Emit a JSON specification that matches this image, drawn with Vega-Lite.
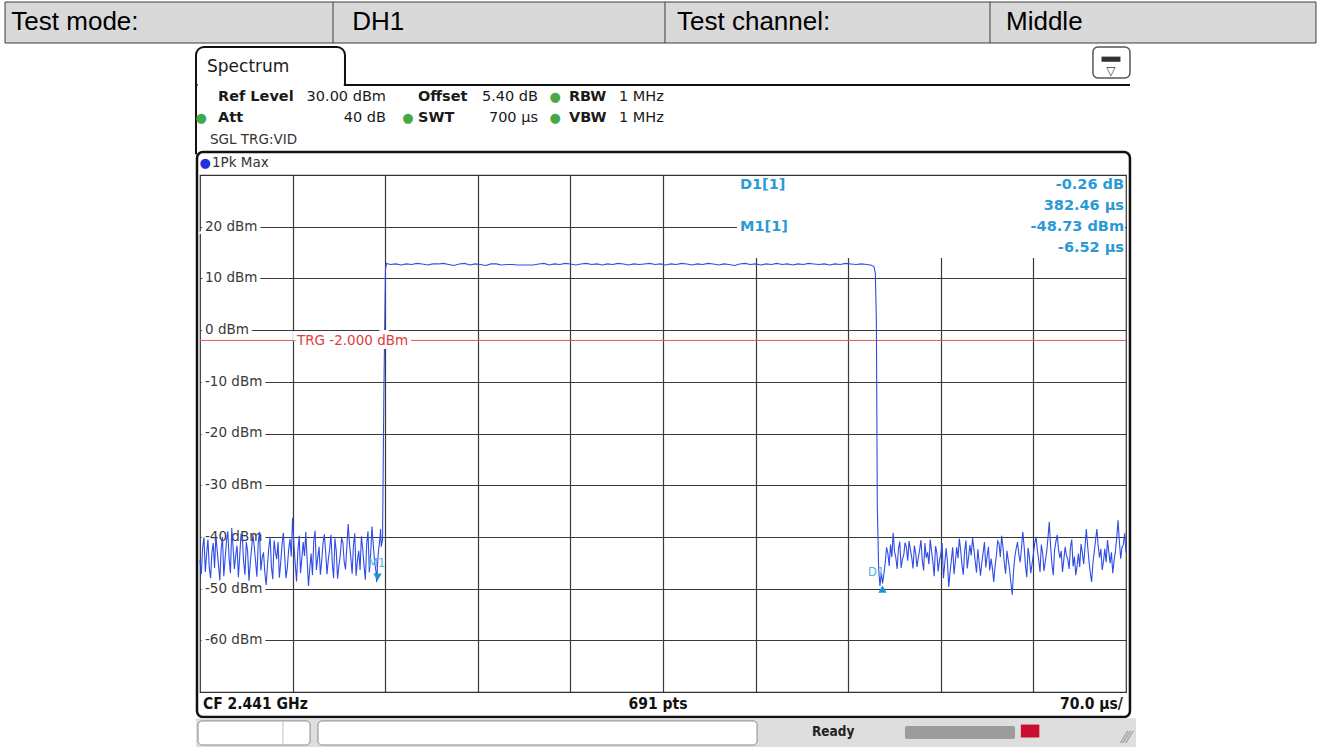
{
"$schema":"https://vega.github.io/schema/vega-lite/v6.json",
"width":926,"height":517,"autosize":"none",
"padding":{"left":200,"top":175,"right":196,"bottom":55},
"background":"white",
"config":{"view":{"stroke":"#333333","strokeWidth":1.2},"text":{"font":"DejaVu Sans"}},
"data":{"values":[
{"t":0,"dBm":-44.5},{"t":1,"dBm":-47.2},{"t":2,"dBm":-42.0},{"t":3,"dBm":-40.1},{"t":4,"dBm":-46.8},{"t":5,"dBm":-43.3},{"t":6,"dBm":-40.5},{"t":7,"dBm":-45.9},{"t":8,"dBm":-48.0},{"t":9,"dBm":-43.0},{"t":10,"dBm":-41.2},{"t":11,"dBm":-46.0},{"t":12,"dBm":-39.8},{"t":13,"dBm":-42.6},{"t":14,"dBm":-45.5},{"t":15,"dBm":-48.4},{"t":16,"dBm":-42.3},{"t":17,"dBm":-40.0},{"t":18,"dBm":-47.6},{"t":19,"dBm":-44.2},{"t":20,"dBm":-40.9},{"t":21,"dBm":-38.9},{"t":22,"dBm":-44.1},{"t":23,"dBm":-47.0},{"t":24,"dBm":-38.3},{"t":25,"dBm":-42.0},{"t":26,"dBm":-46.2},{"t":27,"dBm":-43.5},{"t":28,"dBm":-41.7},{"t":29,"dBm":-47.8},{"t":30,"dBm":-43.9},{"t":31,"dBm":-39.4},{"t":32,"dBm":-40.2},{"t":33,"dBm":-44.9},{"t":34,"dBm":-47.3},{"t":35,"dBm":-41.0},{"t":36,"dBm":-42.8},{"t":37,"dBm":-48.5},{"t":38,"dBm":-45.0},{"t":39,"dBm":-42.2},{"t":40,"dBm":-39.6},{"t":41,"dBm":-41.8},{"t":42,"dBm":-44.7},{"t":43,"dBm":-47.7},{"t":44,"dBm":-41.3},{"t":45,"dBm":-39.0},{"t":46,"dBm":-46.5},{"t":47,"dBm":-44.0},{"t":48,"dBm":-43.0},{"t":49,"dBm":-46.9},{"t":50,"dBm":-49.3},{"t":51,"dBm":-45.5},{"t":52,"dBm":-42.1},{"t":53,"dBm":-40.0},{"t":54,"dBm":-45.8},{"t":55,"dBm":-48.2},{"t":56,"dBm":-40.7},{"t":57,"dBm":-42.9},{"t":58,"dBm":-44.3},{"t":59,"dBm":-41.0},{"t":60,"dBm":-47.9},{"t":61,"dBm":-45.0},{"t":62,"dBm":-41.5},{"t":63,"dBm":-39.2},{"t":64,"dBm":-43.6},{"t":65,"dBm":-48.0},{"t":66,"dBm":-46.0},{"t":67,"dBm":-42.5},{"t":68,"dBm":-40.4},{"t":69,"dBm":-43.8},{"t":70,"dBm":-36.3},{"t":71,"dBm":-41.5},{"t":72,"dBm":-45.2},{"t":73,"dBm":-48.6},{"t":74,"dBm":-42.6},{"t":75,"dBm":-39.8},{"t":76,"dBm":-47.0},{"t":77,"dBm":-44.1},{"t":78,"dBm":-41.0},{"t":79,"dBm":-43.7},{"t":80,"dBm":-39.0},{"t":81,"dBm":-44.5},{"t":82,"dBm":-49.5},{"t":83,"dBm":-46.0},{"t":84,"dBm":-43.2},{"t":85,"dBm":-47.4},{"t":86,"dBm":-40.8},{"t":87,"dBm":-38.8},{"t":88,"dBm":-46.4},{"t":89,"dBm":-44.0},{"t":90,"dBm":-41.9},{"t":91,"dBm":-47.3},{"t":92,"dBm":-44.6},{"t":93,"dBm":-41.2},{"t":94,"dBm":-39.5},{"t":95,"dBm":-43.0},{"t":96,"dBm":-47.2},{"t":97,"dBm":-44.4},{"t":98,"dBm":-42.4},{"t":99,"dBm":-39.6},{"t":100,"dBm":-45.1},{"t":101,"dBm":-48.0},{"t":102,"dBm":-40.3},{"t":103,"dBm":-42.7},{"t":104,"dBm":-48.1},{"t":105,"dBm":-45.6},{"t":106,"dBm":-43.7},{"t":107,"dBm":-40.2},{"t":108,"dBm":-41.1},{"t":109,"dBm":-44.8},{"t":110,"dBm":-46.3},{"t":111,"dBm":-42.0},{"t":112,"dBm":-37.5},{"t":113,"dBm":-41.3},{"t":114,"dBm":-44.0},{"t":115,"dBm":-47.1},{"t":116,"dBm":-41.6},{"t":117,"dBm":-39.3},{"t":118,"dBm":-47.5},{"t":119,"dBm":-44.6},{"t":120,"dBm":-42.7},{"t":121,"dBm":-46.4},{"t":122,"dBm":-39.9},{"t":123,"dBm":-42.3},{"t":124,"dBm":-45.6},{"t":125,"dBm":-48.3},{"t":126,"dBm":-41.4},{"t":127,"dBm":-38.9},{"t":128,"dBm":-46.9},{"t":129,"dBm":-43.4},{"t":130,"dBm":-38.0},{"t":131,"dBm":-41.6},{"t":132,"dBm":-44.8},{"t":133,"dBm":-46.6},{"t":133.5,"dBm":-48.73},{"t":134.3,"dBm":-45.0},{"t":135,"dBm":-42.5},{"t":136,"dBm":-40.4},{"t":136.5,"dBm":-38.5},{"t":137,"dBm":-41.9},{"t":138,"dBm":-40.5},{"t":139,"dBm":-12},{"t":140.2,"dBm":11.8},
{"t":141,"dBm":12.9},{"t":144,"dBm":12.7},{"t":148,"dBm":12.8},{"t":152,"dBm":12.6},{"t":156,"dBm":12.8},{"t":160,"dBm":12.7},{"t":164,"dBm":12.9},{"t":168,"dBm":12.8},{"t":172,"dBm":12.6},{"t":176,"dBm":12.8},{"t":180,"dBm":12.8},{"t":184,"dBm":12.9},{"t":188,"dBm":12.7},{"t":192,"dBm":12.5},{"t":196,"dBm":12.8},{"t":200,"dBm":12.9},{"t":204,"dBm":12.6},{"t":208,"dBm":12.8},{"t":212,"dBm":12.7},{"t":216,"dBm":12.5},{"t":220,"dBm":12.8},{"t":224,"dBm":12.8},{"t":228,"dBm":12.6},{"t":232,"dBm":12.7},{"t":236,"dBm":12.7},{"t":240,"dBm":12.6},{"t":244,"dBm":12.6},{"t":248,"dBm":12.6},{"t":252,"dBm":12.6},{"t":256,"dBm":12.8},{"t":260,"dBm":12.9},{"t":264,"dBm":12.6},{"t":268,"dBm":12.8},{"t":272,"dBm":12.7},{"t":276,"dBm":12.9},{"t":280,"dBm":12.8},{"t":284,"dBm":12.6},{"t":288,"dBm":12.8},{"t":292,"dBm":12.9},{"t":296,"dBm":12.7},{"t":300,"dBm":12.8},{"t":304,"dBm":12.6},{"t":308,"dBm":12.8},{"t":312,"dBm":12.7},{"t":316,"dBm":12.9},{"t":320,"dBm":12.8},{"t":324,"dBm":12.6},{"t":328,"dBm":12.8},{"t":332,"dBm":12.7},{"t":336,"dBm":12.8},{"t":340,"dBm":12.9},{"t":344,"dBm":12.7},{"t":348,"dBm":12.8},{"t":352,"dBm":12.6},{"t":356,"dBm":12.8},{"t":360,"dBm":12.7},{"t":364,"dBm":12.9},{"t":368,"dBm":12.8},{"t":372,"dBm":12.6},{"t":376,"dBm":12.8},{"t":380,"dBm":12.7},{"t":384,"dBm":12.9},{"t":388,"dBm":12.8},{"t":392,"dBm":12.6},{"t":396,"dBm":12.8},{"t":400,"dBm":12.7},{"t":404,"dBm":12.5},{"t":408,"dBm":12.8},{"t":412,"dBm":12.9},{"t":416,"dBm":12.7},{"t":420,"dBm":12.8},{"t":424,"dBm":12.6},{"t":428,"dBm":12.8},{"t":432,"dBm":12.7},{"t":436,"dBm":12.9},{"t":440,"dBm":12.7},{"t":444,"dBm":12.8},{"t":448,"dBm":12.6},{"t":452,"dBm":12.8},{"t":456,"dBm":12.7},{"t":460,"dBm":12.9},{"t":464,"dBm":12.8},{"t":468,"dBm":12.7},{"t":472,"dBm":12.8},{"t":476,"dBm":12.6},{"t":480,"dBm":12.8},{"t":484,"dBm":12.7},{"t":488,"dBm":12.9},{"t":492,"dBm":12.8},{"t":496,"dBm":12.7},{"t":500,"dBm":12.8},{"t":504,"dBm":12.7},{"t":507,"dBm":12.6},{"t":509.5,"dBm":12.3},{"t":510.5,"dBm":11.0},{"t":511.3,"dBm":2.0},{"t":512,"dBm":-34},{"t":513,"dBm":-46},{"t":514,"dBm":-49.5},{"t":515,"dBm":-47},
{"t":516,"dBm":-49.0},{"t":517,"dBm":-47.1},{"t":518,"dBm":-45.0},{"t":519,"dBm":-42.0},{"t":520,"dBm":-43.2},{"t":521,"dBm":-45.6},{"t":522,"dBm":-41.5},{"t":523,"dBm":-43.9},{"t":524,"dBm":-39.2},{"t":525,"dBm":-42.8},{"t":526,"dBm":-44.0},{"t":527,"dBm":-46.2},{"t":528,"dBm":-42.3},{"t":529,"dBm":-40.9},{"t":530,"dBm":-46.0},{"t":531,"dBm":-44.3},{"t":532,"dBm":-43.5},{"t":533,"dBm":-41.1},{"t":534,"dBm":-42.0},{"t":535,"dBm":-44.6},{"t":536,"dBm":-40.8},{"t":537,"dBm":-42.4},{"t":538,"dBm":-43.9},{"t":539,"dBm":-46.1},{"t":540,"dBm":-41.7},{"t":541,"dBm":-43.2},{"t":542,"dBm":-45.8},{"t":543,"dBm":-44.0},{"t":544,"dBm":-42.5},{"t":545,"dBm":-40.6},{"t":546,"dBm":-44.6},{"t":547,"dBm":-46.5},{"t":548,"dBm":-41.2},{"t":549,"dBm":-44.0},{"t":550,"dBm":-43.0},{"t":551,"dBm":-45.3},{"t":552,"dBm":-40.5},{"t":553,"dBm":-42.7},{"t":554,"dBm":-44.8},{"t":555,"dBm":-47.6},{"t":556,"dBm":-41.8},{"t":557,"dBm":-43.0},{"t":558,"dBm":-46.7},{"t":559,"dBm":-44.5},{"t":560,"dBm":-43.4},{"t":561,"dBm":-41.2},{"t":562,"dBm":-48.0},{"t":563,"dBm":-45.2},{"t":564,"dBm":-42.2},{"t":565,"dBm":-44.7},{"t":566,"dBm":-49.7},{"t":567,"dBm":-46.8},{"t":568,"dBm":-44.5},{"t":569,"dBm":-42.0},{"t":570,"dBm":-47.2},{"t":571,"dBm":-44.8},{"t":572,"dBm":-42.0},{"t":573,"dBm":-44.1},{"t":574,"dBm":-40.3},{"t":575,"dBm":-42.5},{"t":576,"dBm":-45.4},{"t":577,"dBm":-47.3},{"t":578,"dBm":-42.8},{"t":579,"dBm":-40.7},{"t":580,"dBm":-46.1},{"t":581,"dBm":-43.9},{"t":582,"dBm":-41.6},{"t":583,"dBm":-43.6},{"t":584,"dBm":-40.2},{"t":585,"dBm":-42.3},{"t":586,"dBm":-44.7},{"t":587,"dBm":-46.9},{"t":588,"dBm":-42.4},{"t":589,"dBm":-44.9},{"t":590,"dBm":-47.5},{"t":591,"dBm":-45.0},{"t":592,"dBm":-43.1},{"t":593,"dBm":-41.0},{"t":594,"dBm":-45.9},{"t":595,"dBm":-43.8},{"t":596,"dBm":-41.9},{"t":597,"dBm":-46.5},{"t":598,"dBm":-44.2},{"t":599,"dBm":-46.0},{"t":600,"dBm":-48.7},{"t":601,"dBm":-45.7},{"t":602,"dBm":-43.6},{"t":603,"dBm":-40.8},{"t":604,"dBm":-41.3},{"t":605,"dBm":-43.9},{"t":606,"dBm":-39.8},{"t":607,"dBm":-42.0},{"t":608,"dBm":-45.0},{"t":609,"dBm":-47.1},{"t":610,"dBm":-42.7},{"t":611,"dBm":-44.5},{"t":612,"dBm":-46.3},{"t":613,"dBm":-48.9},{"t":614,"dBm":-51.2},{"t":615,"dBm":-46.5},{"t":616,"dBm":-43.8},{"t":617,"dBm":-42.2},{"t":618,"dBm":-41.0},{"t":619,"dBm":-43.4},{"t":620,"dBm":-44.9},{"t":621,"dBm":-42.1},{"t":622,"dBm":-39.0},{"t":623,"dBm":-41.9},{"t":624,"dBm":-45.5},{"t":625,"dBm":-47.8},{"t":626,"dBm":-42.1},{"t":627,"dBm":-44.0},{"t":628,"dBm":-47.0},{"t":629,"dBm":-45.2},{"t":630,"dBm":-43.3},{"t":631,"dBm":-41.2},{"t":632,"dBm":-40.0},{"t":633,"dBm":-42.6},{"t":634,"dBm":-44.4},{"t":635,"dBm":-46.8},{"t":636,"dBm":-41.5},{"t":637,"dBm":-43.2},{"t":638,"dBm":-46.6},{"t":639,"dBm":-44.7},{"t":640,"dBm":-43.0},{"t":641,"dBm":-40.2},{"t":642,"dBm":-37.1},{"t":643,"dBm":-41.8},{"t":644,"dBm":-45.2},{"t":645,"dBm":-47.4},{"t":646,"dBm":-42.6},{"t":647,"dBm":-40.9},{"t":648,"dBm":-39.6},{"t":649,"dBm":-42.5},{"t":650,"dBm":-44.1},{"t":651,"dBm":-42.7},{"t":652,"dBm":-46.8},{"t":653,"dBm":-44.4},{"t":654,"dBm":-41.9},{"t":655,"dBm":-43.6},{"t":656,"dBm":-44.3},{"t":657,"dBm":-46.2},{"t":658,"dBm":-42.0},{"t":659,"dBm":-40.5},{"t":660,"dBm":-45.7},{"t":661,"dBm":-43.8},{"t":662,"dBm":-47.4},{"t":663,"dBm":-45.6},{"t":664,"dBm":-43.2},{"t":665,"dBm":-45.8},{"t":666,"dBm":-41.4},{"t":667,"dBm":-43.1},{"t":668,"dBm":-45.3},{"t":669,"dBm":-42.0},{"t":670,"dBm":-38.5},{"t":671,"dBm":-41.7},{"t":672,"dBm":-44.6},{"t":673,"dBm":-46.9},{"t":674,"dBm":-48.7},{"t":675,"dBm":-45.1},{"t":676,"dBm":-42.9},{"t":677,"dBm":-40.6},{"t":678,"dBm":-38.5},{"t":679,"dBm":-41.8},{"t":680,"dBm":-44.0},{"t":681,"dBm":-42.3},{"t":682,"dBm":-46.4},{"t":683,"dBm":-44.7},{"t":684,"dBm":-42.3},{"t":685,"dBm":-44.9},{"t":686,"dBm":-40.6},{"t":687,"dBm":-42.9},{"t":688,"dBm":-45.1},{"t":689,"dBm":-43.0},{"t":690,"dBm":-47.0},{"t":691,"dBm":-44.6},{"t":692,"dBm":-42.8},{"t":693,"dBm":-40.1},{"t":694,"dBm":-36.8},{"t":695,"dBm":-40.9},{"t":696,"dBm":-44.2},{"t":697,"dBm":-42.0},{"t":698,"dBm":-41.5},{"t":699,"dBm":-39.3},{"t":700,"dBm":-43.0}
]},
"layer":[
{"mark":{"type":"line","stroke":"#2f4de6","strokeWidth":1.1,"opacity":0},
 "encoding":{
  "x":{"field":"t","type":"quantitative","scale":{"domain":[0,700],"nice":false,"zero":false},
       "axis":{"title":null,"values":[70,140,210,280,350,420,490,560,630],"labels":false,"ticks":false,"domain":false,"grid":true,"gridColor":"#3a3a3a","gridWidth":1.2,"gridOpacity":1}},
  "y":{"field":"dBm","type":"quantitative","scale":{"domain":[-70,30],"nice":false,"zero":false},
       "axis":{"title":null,"values":[-60,-50,-40,-30,-20,-10,0,10,20],"labels":false,"ticks":false,"domain":false,"grid":true,"gridColor":"#3a3a3a","gridWidth":1.2,"gridOpacity":1}}}},

{"data":{"values":[{}]},"mark":{"type":"rect","fill":"#d9d9d9","stroke":"#3c3c3c","strokeWidth":1},
 "encoding":{"x":{"datum":-147.4},"x2":{"datum":843.6},"y":{"datum":63.46},"y2":{"datum":55.53}}},
{"data":{"values":[{}]},"mark":{"type":"rule","stroke":"#3c3c3c","strokeWidth":1},"encoding":{"x":{"datum":100.54},"y":{"datum":63.46},"y2":{"datum":55.53}}},
{"data":{"values":[{}]},"mark":{"type":"rule","stroke":"#3c3c3c","strokeWidth":1},"encoding":{"x":{"datum":351.5},"y":{"datum":63.46},"y2":{"datum":55.53}}},
{"data":{"values":[{}]},"mark":{"type":"rule","stroke":"#3c3c3c","strokeWidth":1},"encoding":{"x":{"datum":597.2},"y":{"datum":63.46},"y2":{"datum":55.53}}},
{"data":{"values":[{}]},"mark":{"type":"text","font":"Liberation Sans","fontSize":26,"align":"left","baseline":"middle","color":"#000000","text":"Test mode:"},"encoding":{"x":{"datum":-142.6},"y":{"datum":59.5}}},
{"data":{"values":[{}]},"mark":{"type":"text","font":"Liberation Sans","fontSize":26,"align":"left","baseline":"middle","color":"#000000","text":"DH1"},"encoding":{"x":{"datum":115.0},"y":{"datum":59.5}}},
{"data":{"values":[{}]},"mark":{"type":"text","font":"Liberation Sans","fontSize":26,"align":"left","baseline":"middle","color":"#000000","text":"Test channel:"},"encoding":{"x":{"datum":360.6},"y":{"datum":59.5}}},
{"data":{"values":[{}]},"mark":{"type":"text","font":"Liberation Sans","fontSize":26,"align":"left","baseline":"middle","color":"#000000","text":"Middle"},"encoding":{"x":{"datum":609.3},"y":{"datum":59.5}}},

{"data":{"values":[{}]},"mark":{"type":"rect","fill":"#ffffff","stroke":"#111111","strokeWidth":2,"cornerRadiusTopLeft":8,"cornerRadiusTopRight":8},
 "encoding":{"x":{"datum":-3.02},"x2":{"datum":109.6},"y":{"datum":54.76},"y2":{"datum":47.4}}},
{"data":{"values":[{}]},"mark":{"type":"rule","stroke":"#ffffff","strokeWidth":3},"encoding":{"x":{"datum":-1.8},"x2":{"datum":108.7},"y":{"datum":47.4}}},
{"data":{"values":[{}]},"mark":{"type":"rule","stroke":"#111111","strokeWidth":2},"encoding":{"x":{"datum":109.6},"x2":{"datum":703.0},"y":{"datum":47.4}}},
{"data":{"values":[{}]},"mark":{"type":"rule","stroke":"#111111","strokeWidth":2},"encoding":{"x":{"datum":-3.02},"y":{"datum":47.6},"y2":{"datum":34.0}}},
{"data":{"values":[{}]},"mark":{"type":"text","fontSize":17,"align":"left","baseline":"middle","color":"#1a1a1a","text":"Spectrum"},"encoding":{"x":{"datum":5.29},"y":{"datum":50.9}}},
{"data":{"values":[{}]},"mark":{"type":"rect","fill":"#ffffff","stroke":"#555555","strokeWidth":1.5,"cornerRadius":5},
 "encoding":{"x":{"datum":675.0},"x2":{"datum":703.0},"y":{"datum":54.76},"y2":{"datum":48.76}}},
{"data":{"values":[{}]},"mark":{"type":"rect","fill":"#333333"},"encoding":{"x":{"datum":681.5},"x2":{"datum":695.8},"y":{"datum":52.9},"y2":{"datum":51.9}}},
{"data":{"values":[{}]},"mark":{"type":"text","fontSize":12,"align":"center","baseline":"middle","color":"#333333","text":"▽"},"encoding":{"x":{"datum":688.6},"y":{"datum":50.2}}},

{"data":{"values":[{}]},"mark":{"type":"text","fontSize":14.5,"fontWeight":"bold","align":"left","baseline":"middle","lineHeight":21,"color":"#1a1a1a","text":["Ref Level","Att"]},"encoding":{"x":{"datum":13.6},"y":{"datum":45.09}}},
{"data":{"values":[{}]},"mark":{"type":"text","fontSize":14.5,"align":"right","baseline":"middle","lineHeight":21,"color":"#1a1a1a","text":["30.00 dBm","40 dB"]},"encoding":{"x":{"datum":140.6},"y":{"datum":45.09}}},
{"data":{"values":[{}]},"mark":{"type":"text","fontSize":14.5,"fontWeight":"bold","align":"left","baseline":"middle","lineHeight":21,"color":"#1a1a1a","text":["Offset","SWT"]},"encoding":{"x":{"datum":164.8},"y":{"datum":45.09}}},
{"data":{"values":[{}]},"mark":{"type":"text","fontSize":14.5,"align":"right","baseline":"middle","lineHeight":21,"color":"#1a1a1a","text":["5.40 dB","700 µs"]},"encoding":{"x":{"datum":255.5},"y":{"datum":45.09}}},
{"data":{"values":[{}]},"mark":{"type":"text","fontSize":14.5,"fontWeight":"bold","align":"left","baseline":"middle","lineHeight":21,"color":"#1a1a1a","text":["RBW","VBW"]},"encoding":{"x":{"datum":278.9},"y":{"datum":45.09}}},
{"data":{"values":[{}]},"mark":{"type":"text","fontSize":14.5,"align":"left","baseline":"middle","lineHeight":21,"color":"#1a1a1a","text":["1 MHz","1 MHz"]},"encoding":{"x":{"datum":316.7},"y":{"datum":45.09}}},
{"data":{"values":[{}]},"mark":{"type":"text","fontSize":13,"align":"center","baseline":"middle","lineHeight":21,"color":"#48a848","text":["●","●"]},"encoding":{"x":{"datum":268.4},"y":{"datum":45.09}}},
{"data":{"values":[{}]},"mark":{"type":"text","fontSize":13,"align":"center","baseline":"middle","color":"#48a848","text":"●"},"encoding":{"x":{"datum":157.2},"y":{"datum":41.03}}},
{"data":{"values":[{}]},"mark":{"type":"text","fontSize":13,"align":"center","baseline":"middle","color":"#48a848","text":"●"},"encoding":{"x":{"datum":0.9},"y":{"datum":41.03}}},
{"data":{"values":[{}]},"mark":{"type":"text","fontSize":13.5,"align":"left","baseline":"middle","color":"#333333","text":"SGL TRG:VID"},"encoding":{"x":{"datum":7.56},"y":{"datum":36.77}}},

{"data":{"values":[{}]},"mark":{"type":"rect","fill":"#ffffff","fillOpacity":0,"stroke":"#111111","strokeWidth":2.5,"cornerRadius":6},
 "encoding":{"x":{"datum":-2.27},"x2":{"datum":703.0},"y":{"datum":34.45},"y2":{"datum":-74.84}}},
{"data":{"values":[{}]},"mark":{"type":"text","fontSize":13,"align":"center","baseline":"middle","color":"#2233dd","text":"●"},"encoding":{"x":{"datum":3.9},"y":{"datum":32.32}}},
{"data":{"values":[{}]},"mark":{"type":"text","fontSize":13.5,"align":"left","baseline":"middle","color":"#333333","text":"1Pk Max"},"encoding":{"x":{"datum":9.07},"y":{"datum":32.32}}},

{"data":{"values":[{}]},"mark":{"type":"text","fontSize":13.5,"align":"left","baseline":"middle","lineHeight":51.7,"stroke":"#ffffff","strokeWidth":8,"color":"#ffffff","text":["20 dBm","10 dBm","0 dBm","-10 dBm","-20 dBm","-30 dBm","-40 dBm","-50 dBm","-60 dBm"]},"encoding":{"x":{"datum":3.78},"y":{"datum":20}}},
{"data":{"values":[{}]},"mark":{"type":"text","fontSize":13.5,"align":"left","baseline":"middle","lineHeight":51.7,"color":"#3a3a3a","text":["20 dBm","10 dBm","0 dBm","-10 dBm","-20 dBm","-30 dBm","-40 dBm","-50 dBm","-60 dBm"]},"encoding":{"x":{"datum":3.78},"y":{"datum":20}}},

{"data":{"values":[{}]},"mark":{"type":"rect","fill":"#ffffff"},"encoding":{"x":{"datum":405.9},"x2":{"datum":699.2},"y":{"datum":13.95},"y2":{"datum":29.8}}},
{"data":{"values":[{}]},"mark":{"type":"rule","stroke":"#e05a5a","strokeWidth":1},"encoding":{"x":{"datum":0},"x2":{"datum":700},"y":{"datum":-2}}},

{"mark":{"type":"line","stroke":"#2f4de6","strokeWidth":1.1},"encoding":{"x":{"field":"t","type":"quantitative"},"y":{"field":"dBm","type":"quantitative"}}},

{"data":{"values":[{}]},"mark":{"type":"text","fontSize":13.5,"align":"left","baseline":"middle","stroke":"#ffffff","strokeWidth":8,"color":"#ffffff","text":"TRG  -2.000 dBm"},"encoding":{"x":{"datum":73.3},"y":{"datum":-2.1}}},
{"data":{"values":[{}]},"mark":{"type":"text","fontSize":13.5,"align":"left","baseline":"middle","color":"#e03c3c","text":"TRG  -2.000 dBm"},"encoding":{"x":{"datum":73.3},"y":{"datum":-2.1}}},

{"data":{"values":[{}]},"mark":{"type":"point","shape":"triangle-down","filled":true,"size":70,"color":"#1e8fd6","opacity":1},"encoding":{"x":{"datum":134.2},"y":{"datum":-47.8}}},
{"data":{"values":[{}]},"mark":{"type":"point","shape":"triangle-up","filled":true,"size":70,"color":"#1e8fd6","opacity":1},"encoding":{"x":{"datum":515.9},"y":{"datum":-50.08}}},
{"data":{"values":[{}]},"mark":{"type":"text","fontSize":11.5,"align":"left","baseline":"middle","color":"#55aee0","text":"M1"},"encoding":{"x":{"datum":127},"y":{"datum":-45.24}}},
{"data":{"values":[{}]},"mark":{"type":"text","fontSize":11.5,"align":"left","baseline":"middle","color":"#55aee0","text":"D1"},"encoding":{"x":{"datum":505},"y":{"datum":-46.98}}},

{"data":{"values":[{}]},"mark":{"type":"text","fontSize":14.5,"fontWeight":"bold","align":"left","baseline":"middle","lineHeight":42,"color":"#2a9ad6","text":["D1[1]","M1[1]"]},"encoding":{"x":{"datum":408.2},"y":{"datum":28.07}}},
{"data":{"values":[{}]},"mark":{"type":"text","fontSize":14.5,"fontWeight":"bold","align":"right","baseline":"middle","lineHeight":21,"color":"#2a9ad6","text":["-0.26 dB","382.46 µs","-48.73 dBm","-6.52 µs"]},"encoding":{"x":{"datum":698.5},"y":{"datum":28.07}}},

{"data":{"values":[{}]},"mark":{"type":"text","font":"DejaVu Sans Condensed","fontSize":15.5,"fontWeight":"bold","align":"left","baseline":"middle","color":"#111111","text":"CF 2.441 GHz"},"encoding":{"x":{"datum":2.27},"y":{"datum":-72.32}}},
{"data":{"values":[{}]},"mark":{"type":"text","font":"DejaVu Sans Condensed","fontSize":15.5,"fontWeight":"bold","align":"center","baseline":"middle","color":"#111111","text":"691 pts"},"encoding":{"x":{"datum":346.2},"y":{"datum":-72.32}}},
{"data":{"values":[{}]},"mark":{"type":"text","font":"DejaVu Sans Condensed","fontSize":15.5,"fontWeight":"bold","align":"right","baseline":"middle","color":"#111111","text":"70.0 µs/"},"encoding":{"x":{"datum":697.7},"y":{"datum":-72.32}}},

{"data":{"values":[{}]},"mark":{"type":"rect","fill":"#dedede"},"encoding":{"x":{"datum":-3.02},"x2":{"datum":707.6},"y":{"datum":-75.1},"y2":{"datum":-81}}},
{"data":{"values":[{}]},"mark":{"type":"rect","fill":"#ffffff","stroke":"#8a8a8a","strokeWidth":1,"cornerRadius":4},"encoding":{"x":{"datum":-1.5},"x2":{"datum":83.2},"y":{"datum":-75.6},"y2":{"datum":-80.25}}},
{"data":{"values":[{}]},"mark":{"type":"rule","stroke":"#c0c0c0","strokeWidth":1},"encoding":{"x":{"datum":62.7},"y":{"datum":-75.8},"y2":{"datum":-80.0}}},
{"data":{"values":[{}]},"mark":{"type":"rect","fill":"#ffffff","stroke":"#8a8a8a","strokeWidth":1,"cornerRadius":4},"encoding":{"x":{"datum":89.2},"x2":{"datum":421.1},"y":{"datum":-75.6},"y2":{"datum":-80.25}}},
{"data":{"values":[{}]},"mark":{"type":"text","font":"DejaVu Sans Condensed","fontSize":13.5,"fontWeight":"bold","align":"left","baseline":"middle","color":"#222222","text":"Ready"},"encoding":{"x":{"datum":462.6},"y":{"datum":-77.74}}},
{"data":{"values":[{}]},"mark":{"type":"rect","fill":"#9c9c9c","cornerRadius":2},"encoding":{"x":{"datum":532.9},"x2":{"datum":616.1},"y":{"datum":-76.57},"y2":{"datum":-79.09}}},
{"data":{"values":[{}]},"mark":{"type":"rect","fill":"#c8102e"},"encoding":{"x":{"datum":620.5},"x2":{"datum":634.5},"y":{"datum":-76.3},"y2":{"datum":-78.8}}},
{"data":{"values":[{}]},"mark":{"type":"text","fontSize":16,"align":"center","baseline":"middle","color":"#9a9a9a","text":"⁄⁄⁄"},"encoding":{"x":{"datum":700.5},"y":{"datum":-78.9}}}
]
}
